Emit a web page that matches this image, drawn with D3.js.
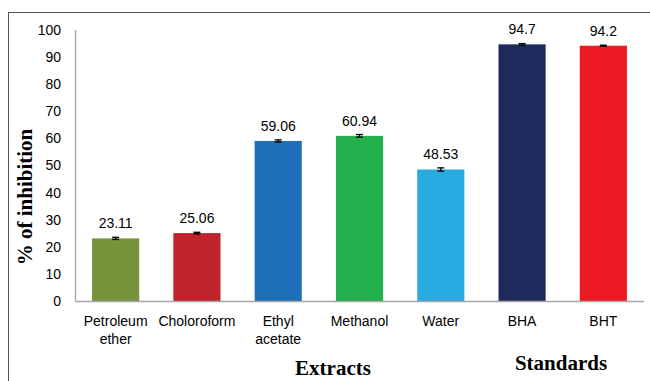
<!DOCTYPE html>
<html>
<head>
<meta charset="utf-8">
<script src="https://cdn.jsdelivr.net/npm/d3@7"></script>
<style>
  html, body { margin: 0; padding: 0; background: #fff; }
  svg { display: block; }
</style>
</head>
<body>
<svg id="chart" width="650" height="381"></svg>
<script>
// Antioxidant activity of solvent extracts and reference standards
const categories = [["Petroleum", "ether"], ["Choloroform"], ["Ethyl", "acetate"], ["Methanol"], ["Water"], ["BHA"], ["BHT"]];
const values = [23.11, 25.06, 59.06, 60.94, 48.53, 94.7, 94.2];
const labels = ["23.11", "25.06", "59.06", "60.94", "48.53", "94.7", "94.2"];
const errors = [0.4, 0.3, 0.4, 0.5, 0.6, 0.3, 0.2];
const colors = ["#77933c", "#c0232a", "#1e6fba", "#22b14c", "#29abe2", "#1f2a5c", "#ed1c24"];
const yTicks = [0, 10, 20, 30, 40, 50, 60, 70, 80, 90, 100];
const groups = [{ name: "Extracts", from: 0, to: 4 }, { name: "Standards", from: 5, to: 6 }];

const svg = d3.select("#chart");
const plotLeft = 75, plotRight = 644, plotTop = 30, plotBottom = 301;

// outer frame
svg.append("rect")
  .attr("x", 8.5).attr("y", 12.5).attr("width", 660).attr("height", 400)
  .attr("fill", "none").attr("stroke", "#555").attr("stroke-width", 1);

const x = d3.scaleBand().domain(d3.range(categories.length)).range([plotLeft, plotRight]).paddingInner(0.42).paddingOuter(0.21);
const y = d3.scaleLinear().domain([0, 100]).range([plotBottom, plotTop]);

// y axis: tick labels only, plus the gray axis line
const yAxis = svg.append("g").attr("transform", `translate(${plotLeft},0)`)
  .call(d3.axisLeft(y).tickValues(yTicks).tickSize(0).tickPadding(14));
yAxis.select(".domain").remove();
yAxis.selectAll("text").attr("font-family", "Liberation Sans, Arial, sans-serif").attr("font-size", 14).attr("fill", "#000");
svg.append("line").attr("x1", plotLeft + 0.5).attr("x2", plotLeft + 0.5).attr("y1", y(100)).attr("y2", plotBottom)
  .attr("stroke", "#a6a6a6").attr("stroke-width", 1.3);

// bars
svg.selectAll("rect.bar").data(values).join("rect").attr("class", "bar")
  .attr("x", (d, i) => x(i)).attr("width", x.bandwidth())
  .attr("y", d => y(d)).attr("height", d => y(0) - y(d))
  .attr("fill", (d, i) => colors[i]);

// x axis line
svg.append("line").attr("x1", plotLeft).attr("x2", plotRight).attr("y1", plotBottom + 0.5).attr("y2", plotBottom + 0.5)
  .attr("stroke", "#a6a6a6").attr("stroke-width", 1.3);

// error bars
const cx = i => x(i) + x.bandwidth() / 2;
const eb = svg.selectAll("g.err").data(values).join("g").attr("class", "err")
  .attr("stroke", "#000").attr("stroke-width", 1.3);
eb.append("line").attr("x1", (d, i) => cx(i)).attr("x2", (d, i) => cx(i))
  .attr("y1", (d, i) => y(d + errors[i])).attr("y2", (d, i) => y(d - errors[i]));
eb.append("line").attr("x1", (d, i) => cx(i) - 3.5).attr("x2", (d, i) => cx(i) + 3.5)
  .attr("y1", (d, i) => y(d + errors[i])).attr("y2", (d, i) => y(d + errors[i]));
eb.append("line").attr("x1", (d, i) => cx(i) - 3.5).attr("x2", (d, i) => cx(i) + 3.5)
  .attr("y1", (d, i) => y(d - errors[i])).attr("y2", (d, i) => y(d - errors[i]));

// value labels
svg.selectAll("text.val").data(values).join("text").attr("class", "val")
  .attr("x", (d, i) => cx(i)).attr("y", d => y(d) - 10)
  .attr("text-anchor", "middle").attr("font-family", "Liberation Sans, Arial, sans-serif").attr("font-size", 14)
  .attr("fill", "#000").text((d, i) => labels[i]);

// category labels
const cat = svg.selectAll("text.cat").data(categories).join("text").attr("class", "cat")
  .attr("x", (d, i) => cx(i)).attr("y", 326)
  .attr("text-anchor", "middle").attr("font-family", "Liberation Sans, Arial, sans-serif").attr("font-size", 14).attr("fill", "#000");
cat.each(function (d, i) {
  d3.select(this).selectAll("tspan").data(d).join("tspan")
    .attr("x", cx(i)).attr("dy", (t, j) => j === 0 ? 0 : 18).text(t => t);
});

// group titles
svg.selectAll("text.grp").data(groups).join("text").attr("class", "grp")
  .attr("x", g => g.name === "Extracts" ? 333 : 561)
  .attr("y", g => g.name === "Extracts" ? 375 : 370)
  .attr("text-anchor", "middle").attr("font-family", "Liberation Serif, Times New Roman, serif")
  .attr("font-weight", "bold").attr("font-size", 21).attr("fill", "#000").text(g => g.name);

// y axis title
svg.append("text").attr("transform", "translate(32,197) rotate(-90)")
  .attr("text-anchor", "middle").attr("font-family", "Liberation Serif, Times New Roman, serif")
  .attr("font-weight", "bold").attr("font-size", 21).attr("fill", "#000").text("% of inhibition");
</script>
</body>
</html>
